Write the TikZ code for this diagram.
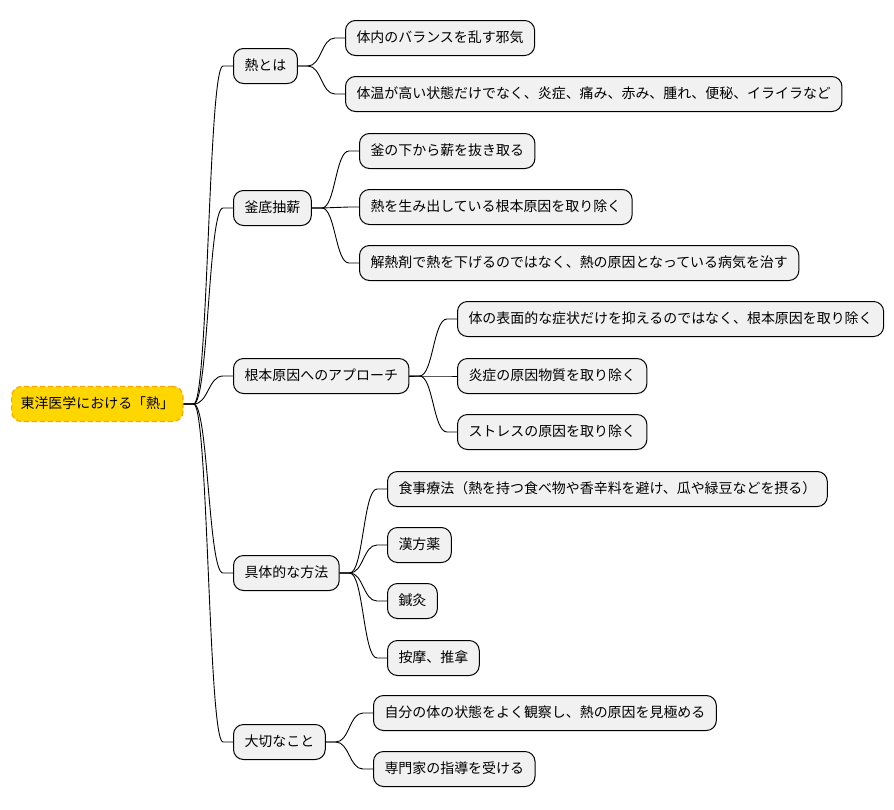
\documentclass[tikz,border=0pt]{standalone}
\usepackage{fontspec}
\setmainfont{Noto Sans CJK JP}
\usetikzlibrary{calc}
\definecolor{nodefill}{HTML}{F1F1F1}
\definecolor{rootfill}{HTML}{FFD700}
\definecolor{rootline}{HTML}{FFA500}
\tikzset{
  box/.style={draw=black, line width=1pt, fill=nodefill, rounded corners=10pt,
    minimum height=35pt, inner xsep=11pt, inner ysep=0pt, anchor=west,
    font=\fontsize{13.95}{16}\selectfont, text height=11pt, text depth=2.5pt},
  rootbox/.style={box, fill=rootfill, draw=rootline, line width=1.2pt, inner xsep=9pt, dashed, dash pattern=on 5pt off 3pt},
  conn/.style={draw=black, line width=0.9pt}
}
\newcommand{\linkit}[2]{%
  \path let \p1=(#1.east), \p2=(#2.west), \n1={(\x2-\x1-20pt)/2} in
    [conn] (\p1) -- ++(10pt,0) .. controls +(\n1,0) and ($(\x2-10pt-\n1,\y2)$) .. (\x2-10pt,\y2) -- (\p2);%
}
\begin{document}
\begin{tikzpicture}[x=1pt,y=-1pt]
\useasboundingbox (0,0) rectangle (894,809);
\node[rootbox] (root) at (11,404) {東洋医学における「熱」};
\node[box] (a) at (233,66) {熱とは};
\node[box] (b) at (233,208) {釜底抽薪};
\node[box] (c) at (233,376) {根本原因へのアプローチ};
\node[box] (d) at (233,573) {具体的な方法};
\node[box] (e) at (233,742) {大切なこと};
\node[box] (a1) at (345,38) {体内のバランスを乱す邪気};
\node[box] (a2) at (345,94) {体温が高い状態だけでなく、炎症、痛み、赤み、腫れ、便秘、イライラなど};
\node[box] (b1) at (359,151) {釜の下から薪を抜き取る};
\node[box] (b2) at (359,207) {熱を生み出している根本原因を取り除く};
\node[box] (b3) at (359,263) {解熱剤で熱を下げるのではなく、熱の原因となっている病気を治す};
\node[box] (c1) at (457,319) {体の表面的な症状だけを抑えるのではなく、根本原因を取り除く};
\node[box] (c2) at (457,376) {炎症の原因物質を取り除く};
\node[box] (c3) at (457,432) {ストレスの原因を取り除く};
\node[box] (d1) at (387,489) {食事療法（熱を持つ食べ物や香辛料を避け、瓜や緑豆などを摂る）};
\node[box] (d2) at (387,545) {漢方薬};
\node[box] (d3) at (387,601) {鍼灸};
\node[box] (d4) at (387,658) {按摩、推拿};
\node[box] (e1) at (373,713) {自分の体の状態をよく観察し、熱の原因を見極める};
\node[box] (e2) at (373,769) {専門家の指導を受ける};
\foreach \c in {a,b,c,d,e} {\linkit{root}{\c}}
\foreach \c in {a1,a2} {\linkit{a}{\c}}
\foreach \c in {b1,b2,b3} {\linkit{b}{\c}}
\foreach \c in {c1,c2,c3} {\linkit{c}{\c}}
\foreach \c in {d1,d2,d3,d4} {\linkit{d}{\c}}
\foreach \c in {e1,e2} {\linkit{e}{\c}}
\end{tikzpicture}
\end{document}
